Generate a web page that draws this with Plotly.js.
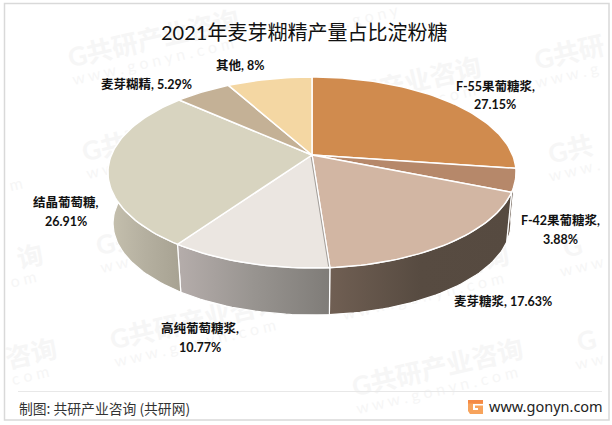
<!DOCTYPE html>
<html><head><meta charset="utf-8">
<script src="https://cdn.plot.ly/plotly-3.0.1.min.js"></script>
<style>html,body{margin:0;padding:0;background:#fff}#c{width:612px;height:425px}</style>
</head><body><div id="c"></div><script>
const categories=['F-55果葡糖浆','F-42果葡糖浆','麦芽糖浆','高纯葡萄糖浆','结晶葡萄糖','麦芽糊精','其他'];
const shares=[27.15,3.88,17.63,10.77,26.91,5.29,8];
const topColors=['#d08b4e','#b6886a','#d2b6a3','#ebe6e1','#d8d4c0','#c4b196','#f4d7a3'];
const wallLeft=['#a8703e','#6e5c50','#705f53','#b5adab','#c6c1af','#9d8e78','#c4ac83'];
const wallMid=['#a8703e','#64564a','#574b41','#989490','#b5b0a0','#9d8e78','#c4ac83'];
const wallRight=['#a8703e','#5e5044','#564a40','#7f7c78','#a7a292','#9d8e78','#c4ac83'];
const labelLines=[
 [[495,86,true],[495,104,false]],
 [[560,220,true],[560,239,false]],
 [[503,301,null]],
 [[200,328,true],[200,347,false]],
 [[66,202,true],[66,221,false]],
 [[146,84,null]],
 [[240,65,null]]];
const watermarkAnchors=[[-136,197],[-122,291],[-108,385],[78,56],[92,150],[106,244],[120,338],[306,9],[320,103],[334,197],[348,291],[362,385],[544,58],[558,152],[572,246],[586,340]];
const brandChars=['G','共','研','产','业','咨','询'];
const urlChars=['w','w','w','.','g','o','n','y','n','.','c','o','m'];

const CX=312,CY=155,A=200.6,B=92.3,K=0.183,D=51.5,FX=0.975,FY=0.96;
const W=612,H=425;
function topPt(t){const r=t*Math.PI/180,u=Math.sin(r),v=Math.cos(r),d=1+K*v;return [CX+A*u/d,CY-B*v/d];}
function bottomPt(t){const p=topPt(t);return [CX+(p[0]-CX)*FX,CY+D+(p[1]-CY)*FY];}
function arc(f,a,b){const o=[],n=Math.max(2,Math.ceil(Math.abs(b-a)/1.5));for(let i=0;i<=n;i++)o.push(f(a+(b-a)*i/n));return o;}

const total=shares.reduce((s,v)=>s+v,0);
let acc=0;const bounds=shares.map(v=>{const a=acc/total*360;acc+=v;return [a,acc/total*360];});

const traces=[];
function poly(pts,extra){traces.push(Object.assign({type:'scatter',mode:'lines',x:pts.map(p=>p[0]),y:pts.map(p=>p[1]),fill:'toself',hoverinfo:'skip',showlegend:false},extra));}
bounds.forEach((b,i)=>{
  const s=Math.max(b[0],92),e=Math.min(b[1],272);
  if(s<e){
    const pts=arc(topPt,s,e).concat(arc(bottomPt,e,s));pts.push(pts[0]);
    poly(pts,{name:categories[i]+' side',line:{color:'#ffffff',width:1.2},fillcolor:wallLeft[i],
      fillgradient:{type:'horizontal',colorscale:[[0,wallLeft[i]],[0.5,wallMid[i]],[1,wallRight[i]]]}});
  }
});
bounds.forEach((b,i)=>{
  const pts=[[CX,CY]].concat(arc(topPt,b[0],b[1]));pts.push([CX,CY]);
  poly(pts,{name:categories[i],line:{color:'#ffffff',width:1.5},fillcolor:topColors[i]});
});
// thin shadow seam on the boundary between 麦芽糖浆 and 高纯葡萄糖浆
const seam=topPt(bounds[3][0]);
traces.push({type:'scatter',mode:'lines',x:[CX-0.8,seam[0]-1.2],y:[CY+2,seam[1]-1],line:{color:'#8f8a85',width:0.8},hoverinfo:'skip',showlegend:false});

const px=x=>x/W,py=y=>1-y/H;
function note(x,y,text,size,color,extra){return Object.assign({xref:'paper',yref:'paper',x:px(x),y:py(y),text:text,showarrow:false,xanchor:'center',yanchor:'middle',borderpad:0,font:{size:size,color:color,family:'Lato,"Noto Sans CJK SC",sans-serif'}},extra||{});}
const anns=[];
const COS=0.974,SIN=0.225;
// only the glyphs inside the framed area are written, as the reference's frame crops them
function wmPart(a,chars,dx,dy,pitch,margin,size,bold,sep){
  const ok=[];
  chars.forEach((c,k)=>{const d=pitch*k,x=a[0]+dx+COS*d,y=a[1]+dy-SIN*d;
    if(x-margin>4.5&&x+margin<609&&y-margin>3.5&&y+margin<420)ok.push(k);});
  if(!ok.length)return;
  const i=ok[0],j=ok[ok.length-1],d=pitch*(i+j)/2;
  const t=chars.slice(i,j+1).join(sep);
  anns.push(note(a[0]+dx+COS*d,a[1]+dy-SIN*d,bold?'<b>'+t+'</b>':t,size,'#f6f6f6',{textangle:-13}));
}
watermarkAnchors.forEach(a=>{
  wmPart(a,brandChars,0,0,26,12,26,true,'');
  wmPart(a,urlChars,-3,22,13.2,6,16,false,' ');
});
const wmCount=anns.length;
categories.forEach((c,i)=>{
  labelLines[i].forEach(l=>{
    const pct=shares[i]+'%';
    const t=l[2]===null?c+', '+pct:(l[2]?c+',':pct);
    anns.push(note(l[0],l[1],'<b>'+t+'</b>',12.5,'#111111'));
  });
});
anns.push(note(304,32,'2021年麦芽糊精产量占比淀粉糖',20,'#111111'));
anns.push(note(18,408,'制图: 共研产业咨询 (共研网)',13.8,'#333333',{xanchor:'left',font:{size:13.8,color:'#333333',family:'"Noto Sans CJK SC",sans-serif'}}));
anns.push(note(604,406,'www.gonyn.com',14.5,'#222222',{xanchor:'right',font:{size:14.5,color:'#222222',family:'"Noto Sans",sans-serif'}}));

const rect=(x0,y0,x1,y1,fill,lc,lw)=>({type:'rect',xref:'x',yref:'y',x0,y0,x1,y1,fillcolor:fill,line:{color:lc||fill,width:lw||0},layer:'above'});
const shapes=[
 rect(4.5,3.5,609,420,'rgba(0,0,0,0)','#d9d9d9',1.5),
 {type:'line',xref:'x',yref:'y',x0:18,x1:602,y0:391.5,y1:391.5,line:{color:'#e8e8e8',width:1.2},layer:'above'},
 {type:'path',xref:'x',yref:'y',path:'M468 400 H483 V404 H473 V410 H478 V408 H475 V405.5 H483 V414 H470 L468 411 Z',fillcolor:'#f7a35c',line:{width:0},layer:'above'},
 rect(468,400,483,403.5,'#f58a45')
];

const layout={width:W,height:H,margin:{l:0,r:0,t:0,b:0},paper_bgcolor:'#ffffff',plot_bgcolor:'rgba(0,0,0,0)',showlegend:false,
 xaxis:{range:[0,W],visible:false,fixedrange:true},yaxis:{range:[H,0],visible:false,fixedrange:true},annotations:anns,shapes:shapes};
Plotly.newPlot('c',traces,layout,{displayModeBar:false,staticPlot:true}).then(gd=>{
  // watermark text sits beneath the pie
  const under=gd.querySelector('.cartesianlayer');
  const nodes=[...gd.querySelectorAll('.infolayer .annotation')].slice(0,wmCount);
  nodes.forEach(n=>under.parentNode.insertBefore(n,under));
});
</script></body></html>
